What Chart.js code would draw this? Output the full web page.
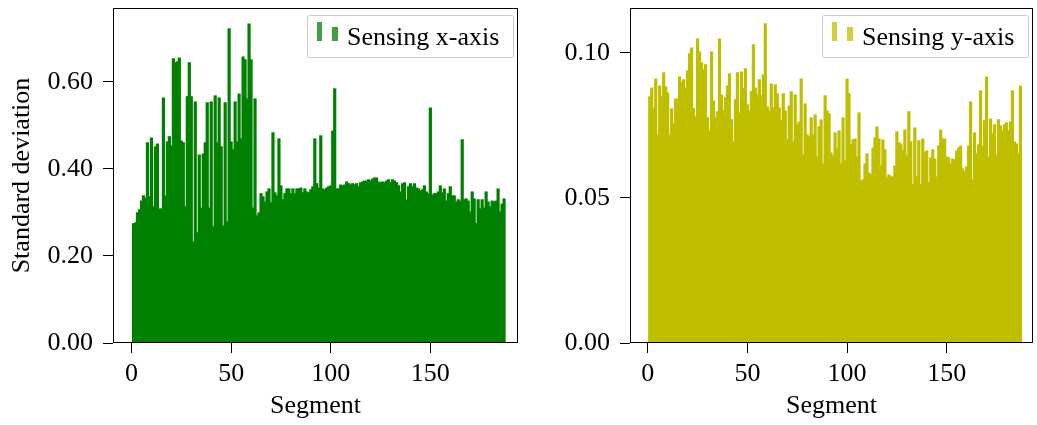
<!DOCTYPE html>
<html>
<head>
<meta charset="utf-8">
<script src="https://cdn.jsdelivr.net/npm/chart.js@4.4.1/dist/chart.umd.min.js"></script>
<style>
  html, body { margin: 0; padding: 0; background: #fff; }
  #wrap { position: relative; width: 1037px; height: 425px; overflow: hidden; }
  canvas { position: absolute; top: 0; }
  #left { left: 0; }
  #right { left: 525px; }
</style>
</head>
<body>
<div id="wrap">
  <canvas id="left" width="525" height="425"></canvas>
  <canvas id="right" width="512" height="425"></canvas>
</div>
<script>
(function () {
    'use strict';

    // std-dev per segment, sensing x-axis (segments 1..187)
    var xAxisStd = [
        0.274, 0.276, 0.299, 0.306, 0.326, 0.338, 0.333, 0.460, 0.336, 0.471,
        0.313, 0.451, 0.457, 0.308, 0.308, 0.563, 0.338, 0.462, 0.474, 0.453,
        0.653, 0.644, 0.646, 0.655, 0.464, 0.460, 0.313, 0.566, 0.644, 0.566,
        0.232, 0.554, 0.253, 0.432, 0.310, 0.434, 0.460, 0.552, 0.310, 0.554,
        0.267, 0.568, 0.460, 0.563, 0.451, 0.269, 0.552, 0.278, 0.722, 0.462,
        0.444, 0.554, 0.462, 0.572, 0.469, 0.657, 0.651, 0.561, 0.733, 0.651,
        0.310, 0.561, 0.292, 0.299, 0.343, 0.336, 0.324, 0.347, 0.354, 0.322,
        0.483, 0.345, 0.338, 0.469, 0.361, 0.329, 0.343, 0.354, 0.354, 0.343,
        0.354, 0.343, 0.354, 0.354, 0.356, 0.345, 0.354, 0.347, 0.345, 0.352,
        0.359, 0.469, 0.366, 0.356, 0.476, 0.354, 0.352, 0.356, 0.359, 0.361,
        0.487, 0.584, 0.354, 0.354, 0.363, 0.361, 0.363, 0.370, 0.366, 0.363,
        0.366, 0.363, 0.366, 0.359, 0.368, 0.370, 0.372, 0.372, 0.375, 0.372,
        0.377, 0.379, 0.379, 0.370, 0.368, 0.370, 0.368, 0.372, 0.375, 0.368,
        0.375, 0.372, 0.368, 0.361, 0.347, 0.366, 0.368, 0.329, 0.359, 0.366,
        0.359, 0.366, 0.356, 0.354, 0.349, 0.352, 0.361, 0.347, 0.343, 0.540,
        0.340, 0.343, 0.343, 0.347, 0.361, 0.345, 0.354, 0.326, 0.343, 0.359,
        0.338, 0.338, 0.324, 0.329, 0.326, 0.467, 0.329, 0.331, 0.326, 0.301,
        0.347, 0.331, 0.274, 0.329, 0.308, 0.329, 0.310, 0.347, 0.324, 0.313,
        0.326, 0.324, 0.326, 0.354, 0.301, 0.319, 0.331
    ];

    // std-dev per segment, sensing y-axis
    var yAxisStd = [
        0.0848, 0.0879, 0.0807, 0.0910, 0.0717, 0.0886, 0.0848, 0.0931, 0.0883, 0.0862,
        0.0717, 0.0807, 0.0755, 0.0841, 0.0841, 0.0917, 0.0897, 0.0907, 0.0879, 0.0938,
        0.0997, 0.1017, 0.0807, 0.0779, 0.1048, 0.1003, 0.0966, 0.0941, 0.0959, 0.0776,
        0.0731, 0.1003, 0.0834, 0.0776, 0.0797, 0.1048, 0.0855, 0.0800, 0.0845, 0.0886,
        0.0928, 0.0769, 0.0693, 0.0838, 0.0931, 0.0793, 0.0934, 0.0876, 0.0945, 0.0821,
        0.0800, 0.0866, 0.1028, 0.0879, 0.0855, 0.0907, 0.0852, 0.0924, 0.1100, 0.0814,
        0.0800, 0.0893, 0.0810, 0.0890, 0.0859, 0.0810, 0.0766, 0.0859, 0.0800, 0.0700,
        0.0817, 0.0866, 0.0693, 0.0855, 0.0752, 0.0762, 0.0910, 0.0648, 0.0824, 0.0717,
        0.0710, 0.0776, 0.0717, 0.0786, 0.0641, 0.0745, 0.0769, 0.0617, 0.0852, 0.0800,
        0.0790, 0.0655, 0.0645, 0.0724, 0.0669, 0.0731, 0.0617, 0.0776, 0.0628, 0.0910,
        0.0859, 0.0683, 0.0700, 0.0703, 0.0641, 0.0793, 0.0559, 0.0562, 0.0617, 0.0652,
        0.0586, 0.0579, 0.0672, 0.0707, 0.0745, 0.0703, 0.0610, 0.0700, 0.0666, 0.0569,
        0.0579, 0.0572, 0.0572, 0.0610, 0.0728, 0.0690, 0.0686, 0.0662, 0.0734, 0.0645,
        0.0797, 0.0693, 0.0545, 0.0741, 0.0572, 0.0697, 0.0545, 0.0703, 0.0655, 0.0662,
        0.0552, 0.0638, 0.0666, 0.0634, 0.0572, 0.0679, 0.0734, 0.0703, 0.0703, 0.0641,
        0.0638, 0.0617, 0.0634, 0.0631, 0.0662, 0.0672, 0.0679, 0.0600, 0.0590, 0.0607,
        0.0679, 0.0831, 0.0562, 0.0724, 0.0652, 0.0683, 0.0869, 0.0679, 0.0766, 0.0917,
        0.0641, 0.0772, 0.0721, 0.0752, 0.0648, 0.0769, 0.0748, 0.0731, 0.0752, 0.0759,
        0.0731, 0.0762, 0.0869, 0.0693, 0.0686, 0.0652, 0.0886
    ];

    var segments = xAxisStd.map(function (_, i) { return i + 1; });

    var xTickValues = [0, 50, 100, 150];
    var leftYTicks = [0, 0.2, 0.4, 0.6];
    var rightYTicks = [0, 0.05, 0.1];

    var FONT = { family: '"Liberation Serif", "Times New Roman", serif', size: 26 };

    // axes frame + legend with two little bars
    var frameLegend = {
        id: 'frameLegend',
        afterDatasetsDraw: function (chart, args, opts) {
            var ctx = chart.ctx, a = chart.chartArea;
            ctx.save();
            ctx.strokeStyle = '#000';
            ctx.lineWidth = 1;
            ctx.strokeRect(Math.round(a.left) + 0.5, Math.round(a.top) + 0.5,
                Math.round(a.width) - 1, Math.round(a.height) - 1);

            var w = 206, h = 42;
            var bx = Math.round(a.right) - 5 - w, by = Math.round(a.top) + 7;
            ctx.fillStyle = '#fff';
            ctx.strokeStyle = '#cccccc';
            ctx.beginPath();
            ctx.roundRect(bx + 0.5, by + 0.5, w, h, 2);
            ctx.fill();
            ctx.stroke();

            ctx.fillStyle = opts.swatch;
            ctx.fillRect(bx + 10, by + 7, 5, 19);
            ctx.fillRect(bx + 25, by + 12, 6, 14);

            ctx.fillStyle = '#000';
            ctx.font = FONT.size + 'px ' + FONT.family;
            ctx.textBaseline = 'alphabetic';
            ctx.textAlign = 'left';
            ctx.fillText(opts.text, bx + 40, by + 30);
            ctx.restore();
        }
    };

    function tickGrid() {
        return { display: true, offset: false, drawOnChartArea: false, drawTicks: true, tickLength: 10, color: '#000', lineWidth: 1 };
    }

    function renderPanel(id, values, color, legendText, swatch, yTicks, yMax, yTitle, yWidth, xMin, xMax, padRight) {
        var el = document.getElementById(id);
        new Chart(el, {
            type: 'bar',
            data: {
                labels: segments,
                datasets: [{
                    data: values,
                    backgroundColor: color,
                    borderWidth: 0,
                    inflateAmount: 0.6,
                    barPercentage: 1,
                    categoryPercentage: 1
                }]
            },
            options: {
                responsive: false,
                animation: false,
                devicePixelRatio: 1,
                layout: { padding: { top: 8, right: padRight, bottom: 0, left: 0 } },
                plugins: {
                    legend: { display: false },
                    tooltip: { enabled: false },
                    frameLegend: { text: legendText, swatch: swatch }
                },
                scales: {
                    x: {
                        type: 'linear',
                        offset: false,
                        min: xMin,
                        max: xMax,
                        grid: tickGrid(),
                        border: { display: false },
                        ticks: {
                            color: '#000', font: FONT, padding: 6, autoSkip: false, maxRotation: 0,
                            callback: function (v) { return String(v); }
                        },
                        afterBuildTicks: function (s) {
                            s.ticks = xTickValues.map(function (v) { return { value: v }; });
                        },
                        afterFit: function (s) {
                            s.height = 82;
                            s.paddingLeft = 0; s.paddingRight = 0;
                        },
                        title: { display: true, text: 'Segment', color: '#000', font: FONT, padding: { top: 0, bottom: 3 } }
                    },
                    y: {
                        min: 0,
                        max: yMax,
                        grid: tickGrid(),
                        border: { display: false },
                        ticks: {
                            color: '#000', font: FONT, padding: 10,
                            callback: function (v) { return Number(v).toFixed(2); }
                        },
                        afterBuildTicks: function (s) {
                            s.ticks = yTicks.map(function (v) { return { value: v }; });
                        },
                        afterFit: function (s) {
                            s.width = yWidth;
                            s.paddingTop = 0; s.paddingBottom = 0;
                        },
                        title: { display: !!yTitle, text: yTitle || '', color: '#000', font: FONT, padding: { top: 7, bottom: 0 } }
                    }
                }
            },
            plugins: [frameLegend]
        });
    }

    renderPanel('left', xAxisStd, '#008000', 'Sensing x-axis', '#40a040',
        leftYTicks, 0.770, 'Standard deviation', 113, -9.3, 194, 7);
    renderPanel('right', yAxisStd, '#bfbf00', 'Sensing y-axis', '#cfcf40',
        rightYTicks, 0.1155, null, 105, -8.9, 193.3, 4);
})();
</script>
</body>
</html>
